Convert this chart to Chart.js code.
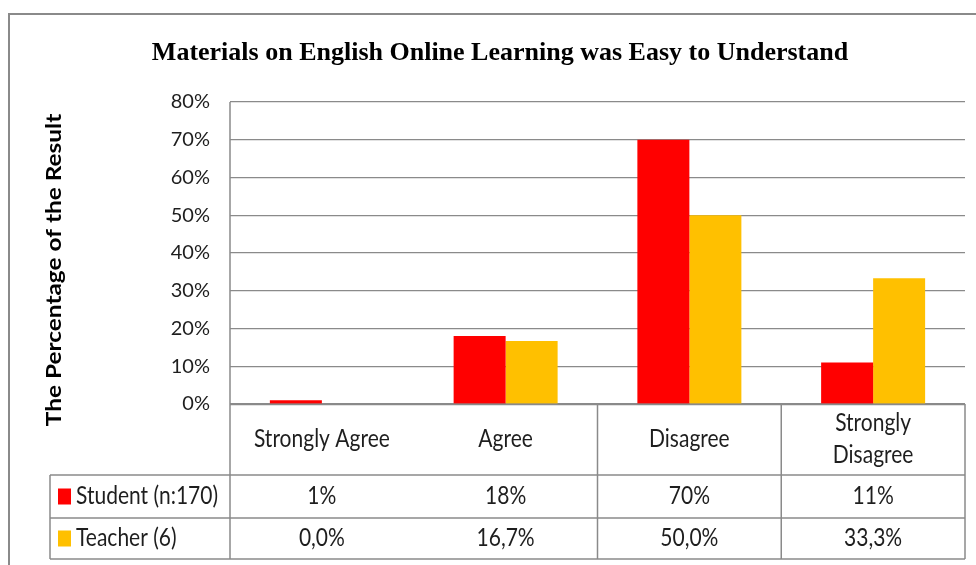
<!DOCTYPE html>
<html><head><meta charset="utf-8">
<script src="https://cdn.jsdelivr.net/npm/chart.js@4/dist/chart.umd.min.js"></script>
<style>html,body{margin:0;padding:0;background:#fff}#wrap{position:relative;width:976px;height:565px}</style>
</head><body><div id="wrap"><canvas id="c"></canvas></div>
<script>
const chartTitle = 'Materials on English Online Learning was Easy to Understand';
const yAxisTitle = 'The Percentage of the Result';
const categories = ['Strongly Agree', 'Agree', 'Disagree', ['Strongly', 'Disagree']];
const seriesNames = ['Student (n:170)', 'Teacher (6)'];
const studentValues = [1, 18, 70, 11];
const teacherValues = [0, 16.7, 50, 33.3];
const studentLabels = ['1%', '18%', '70%', '11%'];
const teacherLabels = ['0,0%', '16,7%', '50,0%', '33,3%'];
const seriesColors = ['#FF0000', '#FFC000'];
const yMin = 0, yMax = 80, yStep = 10;

const LINE = '#8a8a8a';
const TXT = '#1e1e1e';
const BODY_FONT = '21px Lato';
const STRETCH = 1.15;

function stretchedText(ctx, text, x, y) {
  ctx.save();
  ctx.translate(x, y);
  ctx.scale(1, STRETCH);
  ctx.fillText(text, 0, 0);
  ctx.restore();
}

const tablePlugin = {
  id: 'dataTable',
  afterDraw(chart) {
    const ctx = chart.ctx;
    const a = chart.chartArea;
    const xs = chart.scales.x;
    const catW = (a.right - a.left) / categories.length;
    const rowTop = a.bottom, hdrBottom = a.bottom + 71, r1Bottom = hdrBottom + 43, r2Bottom = r1Bottom + 41;
    const tableLeft = 50;
    ctx.save();
    // outer frame
    ctx.strokeStyle = LINE; ctx.lineWidth = 2;
    ctx.beginPath(); ctx.moveTo(9, 565); ctx.lineTo(9, 14); ctx.lineTo(976, 14); ctx.stroke();
    // table lines
    ctx.lineWidth = 1.5;
    ctx.beginPath();
    ctx.moveTo(a.left, a.bottom + 0.5); ctx.lineTo(a.right, a.bottom + 0.5);
    ctx.moveTo(tableLeft, hdrBottom); ctx.lineTo(a.right, hdrBottom);
    ctx.moveTo(tableLeft, r1Bottom); ctx.lineTo(a.right, r1Bottom);
    ctx.moveTo(tableLeft, r2Bottom); ctx.lineTo(a.right, r2Bottom);
    ctx.moveTo(tableLeft, hdrBottom); ctx.lineTo(tableLeft, r2Bottom);
    ctx.moveTo(a.left, a.top); ctx.lineTo(a.left, r2Bottom);
    for (let i = 2; i <= categories.length; i++) {
      const x = a.left + catW * i;
      ctx.moveTo(x, rowTop); ctx.lineTo(x, r2Bottom);
    }
    ctx.stroke();
    // texts
    ctx.fillStyle = TXT; ctx.font = BODY_FONT; ctx.textAlign = 'center'; ctx.textBaseline = 'middle';
    categories.forEach((c, i) => {
      const cx = xs.getPixelForValue(i);
      const lines = Array.isArray(c) ? c : [c];
      const mid = (rowTop + hdrBottom) / 2;
      lines.forEach((ln, j) => {
        stretchedText(ctx, ln, cx, mid + (j - (lines.length - 1) / 2) * 32);
      });
      stretchedText(ctx, studentLabels[i], cx, (hdrBottom + r1Bottom) / 2);
      stretchedText(ctx, teacherLabels[i], cx, (r1Bottom + r2Bottom) / 2);
    });
    // row headers with legend keys
    const rows = [[seriesNames[0], seriesColors[0], (hdrBottom + r1Bottom) / 2], [seriesNames[1], seriesColors[1], (r1Bottom + r2Bottom) / 2]];
    rows.forEach(([name, col, cy]) => {
      ctx.fillStyle = col; ctx.fillRect(58, cy - 8, 13, 16);
      ctx.fillStyle = TXT; ctx.textAlign = 'left';
      stretchedText(ctx, name, 76, cy);
    });
    // y axis title
    ctx.save();
    ctx.translate(55, 270); ctx.rotate(-Math.PI / 2); ctx.scale(1.22, 1);
    ctx.font = 'bold 20px Lato'; ctx.textAlign = 'center'; ctx.textBaseline = 'middle'; ctx.fillStyle = '#000';
    ctx.fillText(yAxisTitle, 0, 0);
    ctx.restore();
    ctx.restore();
  }
};

new Chart(document.getElementById('c'), {
  type: 'bar',
  data: {
    labels: categories,
    datasets: [
      { label: seriesNames[0], data: studentValues, backgroundColor: seriesColors[0], borderWidth: 0, categoryPercentage: 0.566, barPercentage: 1 },
      { label: seriesNames[1], data: teacherValues, backgroundColor: seriesColors[1], borderWidth: 0, categoryPercentage: 0.566, barPercentage: 1 }
    ]
  },
  options: {
    responsive: true, maintainAspectRatio: false, animation: false,
    layout: { padding: { left: 35, right: 11, top: 0, bottom: 161 } },
    plugins: {
      legend: { display: false }, tooltip: { enabled: false },
      title: { display: true, text: chartTitle, color: '#000', font: { family: 'Liberation Serif', size: 26, weight: 'bold', lineHeight: 1.2 }, padding: { top: 38, bottom: 32.8 } }
    },
    scales: {
      x: { display: false },
      y: {
        min: yMin, max: yMax,
        ticks: { stepSize: yStep, padding: 20, color: TXT, font: { family: 'Lato', size: 20 }, callback: v => v + '%' },
        grid: { color: LINE, lineWidth: 1.2, drawTicks: false },
        border: { display: false },
        afterFit: s => { s.width = 195; }
      }
    }
  },
  plugins: [tablePlugin]
});
</script></body></html>
